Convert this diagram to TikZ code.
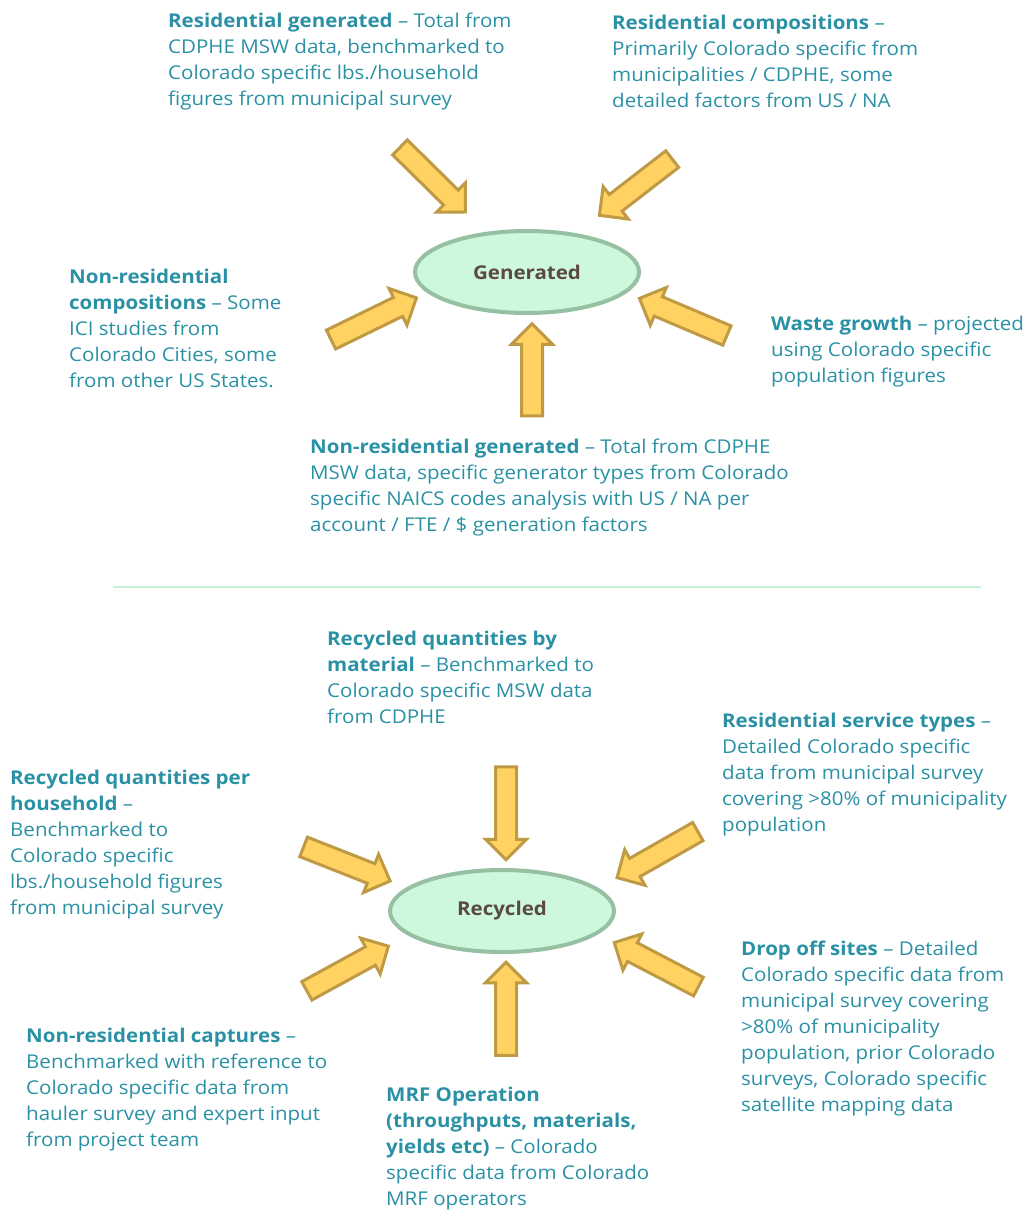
\documentclass[tikz,border=0pt]{standalone}
\usepackage{fontspec}
\setmainfont{Open Sans}[FakeStretch=1.08]
\usetikzlibrary{shapes.geometric,shapes.arrows}

\definecolor{noteteal}{HTML}{2A91A5}
\definecolor{hubfill}{HTML}{CDF8DB}
\definecolor{hubedge}{HTML}{97BFA2}
\definecolor{hubtext}{HTML}{5B4A43}
\definecolor{arrowfill}{HTML}{FFD262}
\definecolor{arrowedge}{HTML}{BF9A45}
\definecolor{rulegreen}{HTML}{C6F2D5}

\tikzset{
    note/.style={anchor=north west, inner sep=0pt, align=left, text=noteteal,
        font=\fontsize{19}{26}\selectfont},
    hub/.style={ellipse, draw=hubedge, line width=4pt, fill=hubfill,
        minimum width=224, minimum height=82, text=hubtext,
        font=\fontsize{19}{22}\selectfont\bfseries},
    feed/.style={single arrow, draw=arrowedge, fill=arrowfill, line width=3pt,
        inner xsep=0pt, inner ysep=9pt, minimum width=40,
        single arrow head extend=10, single arrow head indent=0pt}
}

\begin{document}
\begin{tikzpicture}[x=1pt, y=-1pt]
    \useasboundingbox (0,0) rectangle (1034,1211);

    % generated side
    \node[hub] (gen) at (527,272) {Generated};

    \node[note] (resgen) at (168,13) {\textbf{Residential generated} -- Total from\\
        CDPHE MSW data, benchmarked to\\
        Colorado specific lbs./household\\
        figures from municipal survey};
    \node[note] (rescomp) at (612,15) {\textbf{Residential compositions} --\\
        Primarily Colorado specific from\\
        municipalities / CDPHE, some\\
        detailed factors from US / NA};
    \node[note] (nrcomp) at (69,269) {\textbf{Non-residential}\\
        \textbf{compositions} -- Some\\
        ICI studies from\\
        Colorado Cities, some\\
        from other US States.};
    \node[note] (growth) at (771,316) {\textbf{Waste growth} -- projected\\
        using Colorado specific\\
        population figures};
    \node[note] (nrgen) at (310,439) {\textbf{Non-residential generated} -- Total from CDPHE\\
        MSW data, specific generator types from Colorado\\
        specific NAICS codes analysis with US / NA per\\
        account / FTE / \$ generation factors};

    \node[feed, rotate=-44.6, minimum height=92] (resgen-arr) at (429,176) {};
    \node[feed, rotate=-142.3, minimum height=92] (rescomp-arr) at (640,184) {};
    \node[feed, rotate=26, minimum height=95] (nrcomp-arr) at (369,321) {};
    \node[feed, rotate=90, minimum height=92] (nrgen-arr) at (532,375) {};
    \node[feed, rotate=157, minimum height=95] (growth-arr) at (688,319) {};

    % divider
    \draw[rulegreen, line width=2pt] (113,587) -- (981,587);

    % recycled side
    \node[hub] (rec) at (502,911) {Recycled};

    \node[note] (recmat) at (327,631) {\textbf{Recycled quantities by}\\
        \textbf{material} -- Benchmarked to\\
        Colorado specific MSW data\\
        from CDPHE};
    \node[note] (servtype) at (722,713) {\textbf{Residential service types} --\\
        Detailed Colorado specific\\
        data from municipal survey\\
        covering >80\% of municipality\\
        population};
    \node[note] (rechh) at (10,770) {\textbf{Recycled quantities per}\\
        \textbf{household} --\\
        Benchmarked to\\
        Colorado specific\\
        lbs./household figures\\
        from municipal survey};
    \node[note] (dropoff) at (741,941) {\textbf{Drop off sites} -- Detailed\\
        Colorado specific data from\\
        municipal survey covering\\
        >80\% of municipality\\
        population, prior Colorado\\
        surveys, Colorado specific\\
        satellite mapping data};
    \node[note] (nrcapt) at (26,1028) {\textbf{Non-residential captures} --\\
        Benchmarked with reference to\\
        Colorado specific data from\\
        hauler survey and expert input\\
        from project team};
    \node[note] (mrf) at (386,1087) {\textbf{MRF Operation}\\
        \textbf{(throughputs, materials,}\\
        \textbf{yields etc)} -- Colorado\\
        specific data from Colorado\\
        MRF operators};

    \node[feed, rotate=-90, minimum height=93] (recmat-arr) at (506,808) {};
    \node[feed, rotate=-21.5, minimum height=93] (rechh-arr) at (342,862) {};
    \node[feed, rotate=-150.3, minimum height=93] (servtype-arr) at (662,852) {};
    \node[feed, rotate=28.7, minimum height=93] (nrcapt-arr) at (343,971) {};
    \node[feed, rotate=152.4, minimum height=95] (dropoff-arr) at (661,967) {};
    \node[feed, rotate=90, minimum height=93] (mrf-arr) at (506,1014) {};
\end{tikzpicture}
\end{document}
